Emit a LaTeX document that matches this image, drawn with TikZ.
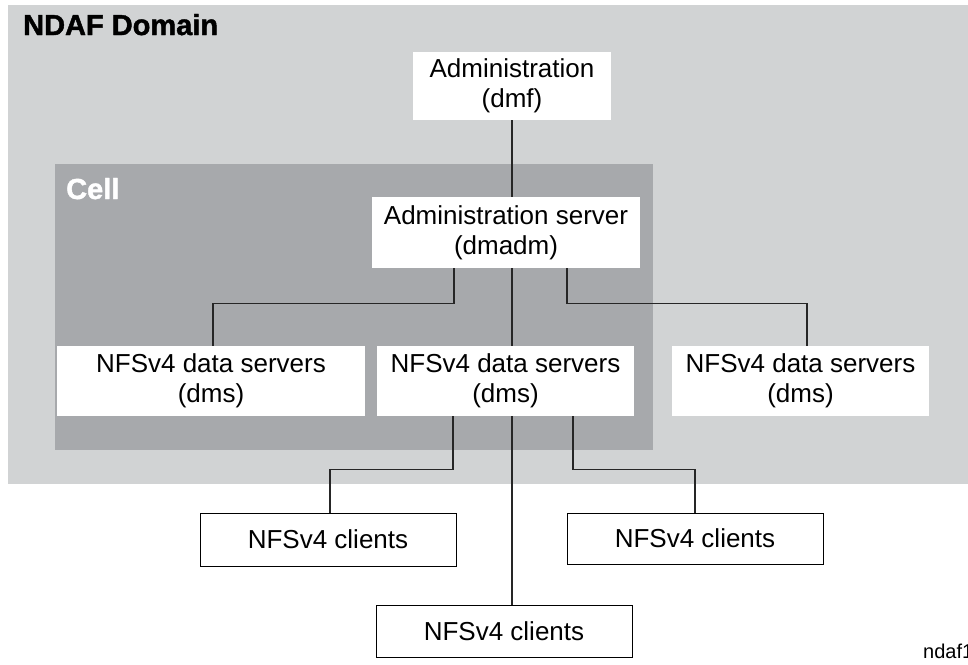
\documentclass[tikz,border=0pt]{standalone}
\usepackage{fontspec}
\setmainfont{Liberation Sans}
\definecolor{domaingray}{RGB}{209,211,212}
\definecolor{cellgray}{RGB}{167,169,172}
\tikzset{
  srvbox/.style={fill=white, align=center, inner sep=0pt,
    font=\fontsize{26}{30}\selectfont},
  clibox/.style={draw=black, fill=white, line width=0.9pt, inner sep=0pt,
    minimum width=256pt, font=\fontsize{26}{30}\selectfont},
  arealbl/.style={anchor=base west, inner sep=0pt,
    font=\fontsize{29}{33}\selectfont\bfseries},
  link/.style={line width=1.1pt, black!85}
}

\begin{document}
\begin{tikzpicture}[x=1pt, y=-1pt]
    \useasboundingbox (0,0) rectangle (968,664);

    % NDAF domain and cell areas
    \fill[domaingray] (8,5) rectangle (968,484);
    \fill[cellgray] (55,164) rectangle (653,450);
    \node[arealbl] (domlbl) at (23,35) {\addfontfeature{FakeBold=1.5}NDAF Domain};
    \node[arealbl, text=white] (celllbl) at (66,199) {\addfontfeature{FakeBold=1.5}Cell};

    % Servers
    \node[srvbox, minimum width=198pt, minimum height=68pt] (dmf) at (512,86) {Administration\\(dmf)};
    \node[srvbox, minimum width=268pt, minimum height=71pt] (adm) at (506,232.5) {Administration server\\(dmadm)};
    \node[srvbox, minimum width=308pt, minimum height=70pt] (dsL) at (211,381) {NFSv4 data servers\\(dms)};
    \node[srvbox, minimum width=257pt, minimum height=70pt] (dsM) at (505.5,381) {NFSv4 data servers\\(dms)};
    \node[srvbox, minimum width=257pt, minimum height=70pt] (dsR) at (800.5,381) {NFSv4 data servers\\(dms)};

    % Clients
    \node[clibox, minimum height=53pt] (clL) at (328,539.5) {NFSv4 clients};
    \node[clibox, minimum height=51pt] (clR) at (695,538.5) {NFSv4 clients};
    \node[clibox, minimum height=52pt] (clB) at (504,631) {NFSv4 clients};

    % Connections down the middle
    \draw[link] (dmf.south) -- (dmf.south |- adm.north);
    \draw[link] (dmf.south |- adm.south) -- (dmf.south |- dsM.north);
    \draw[link] (dmf.south |- dsM.south) -- (dmf.south |- clB.north);

    % Administration server to the side data servers
    \draw[link] ([xshift=-52pt]adm.south) -- ++(0,35) -| ([xshift=2pt]dsL.north);
    \draw[link] ([xshift=61pt]adm.south) -- ++(0,35) -| ([xshift=6.5pt]dsR.north);

    % Data servers to the side clients
    \draw[link] ([xshift=-52.5pt]dsM.south) -- ++(0,53) -| ([xshift=2pt]clL.north);
    \draw[link] ([xshift=67.5pt]dsM.south) -- ++(0,53) -| (clR.north);

    % Figure tag, cut by the page edge
    \node[anchor=base west, inner sep=0pt, font=\fontsize{20}{23}\selectfont] (tag) at (923,658) {ndaf1};

\end{tikzpicture}
\end{document}
